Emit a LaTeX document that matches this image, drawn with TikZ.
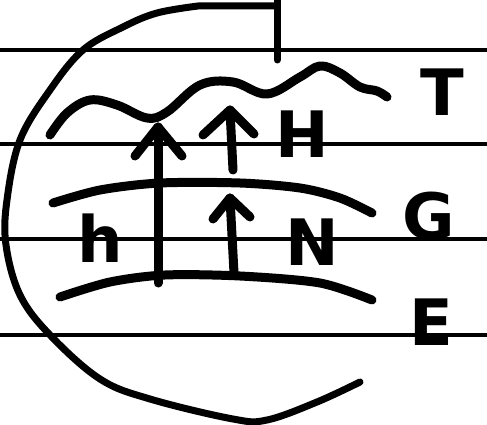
\documentclass[tikz,border=0pt]{standalone}
\usepackage{fontspec}
\setmainfont{DejaVu Sans}
\begin{document}
\begin{tikzpicture}[x=1pt,y=-1pt,
  rule/.style={line width=3.4pt,black},
  ink/.style={line width=9pt,black,line cap=round,line join=round},
  thin ink/.style={line width=7pt,black,line cap=round,line join=round},
  lbl/.style={font=\fontsize{64}{64}\selectfont\bfseries,inner sep=0pt,anchor=center}]
\useasboundingbox (0,0) rectangle (487,425);
% ruled lines
\foreach \yy in {50,144,239,335} \draw[rule] (0,\yy) -- (487,\yy);
% big arc and top tick
\coordinate (tickTop) at (277,0);
\coordinate (tickBot) at (277,60);
\draw[thin ink] (tickTop) -- (tickBot);
\draw[thin ink] (277,6) -- (198,6) plot[smooth,tension=0.6] coordinates {(198,6) (157,13) (123,27) (83,50) (50,90) (20,140) (7,200) (6,245) (20,295) (50,335) (100,379) (150,399) (233,419) (267,420) (317,402) (360,382)};
% T wave
\draw[ink] plot[smooth,tension=0.6] coordinates {(50,135) (67,113) (90,100) (117,105) (147,118) (167,112) (200,85) (233,82) (267,94) (300,77) (320,66) (340,73) (360,87) (377,91) (387,97)};
% G arc
\draw[ink] plot[smooth] coordinates {(53,203) (100,190) (160,183) (240,183) (300,188) (340,198) (372,213)};
% E arc
\draw[ink] plot[smooth] coordinates {(60,297) (110,282) (165,275) (240,276) (320,283) (372,300)};
% long arrow h
\coordinate (hBase) at (158,283);
\coordinate (hTip) at (158,127);
\coordinate (hL) at (135,156);
\coordinate (hR) at (182,156);
\draw[ink] (hBase) -- (hTip);
\draw[ink] (hL) -- (hTip) -- (hR);
% H arrow
\coordinate (HBase) at (233,170);
\coordinate (HTip) at (230,110);
\coordinate (HL) at (203,135);
\coordinate (HR) at (254,134);
\draw[ink] (HBase) -- (HTip);
\draw[ink] (HL) -- (HTip) -- (HR);
% N arrow
\coordinate (NBase) at (234,273);
\coordinate (NTip) at (230,198);
\coordinate (NL) at (213,219);
\coordinate (NR) at (250,217);
\draw[ink] (NBase) -- (NTip);
\draw[ink] (NL) -- (NTip) -- (NR);
% labels
\node[lbl] (T) at (442,92) {T};
\node[lbl] (H) at (302,134) {H};
\node[lbl] (G) at (429,216) {G};
\node[lbl] (N) at (312,242) {N};
\node[lbl] (h) at (100,238) {h};
\node[lbl] (E) at (431,322) {E};
\end{tikzpicture}
\end{document}
